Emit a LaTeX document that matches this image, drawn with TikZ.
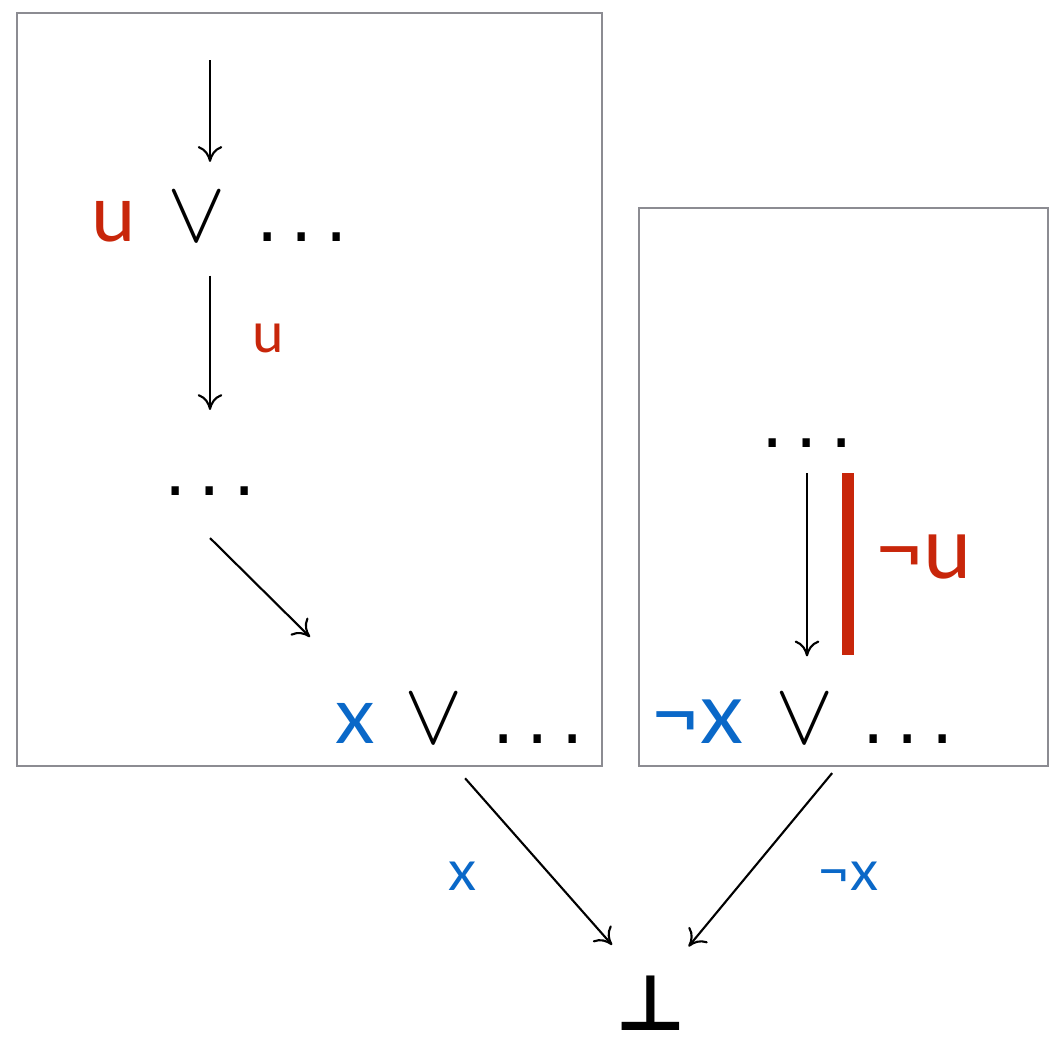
\documentclass[tikz,border=0pt]{standalone}
\usepackage{fontspec}
\setmainfont{Lato}
\newfontfamily\symfont{DejaVu Sans}
\usetikzlibrary{arrows.meta}
\definecolor{clred}{RGB}{200,38,10}
\definecolor{clblue}{RGB}{10,104,200}
\definecolor{boxgray}{RGB}{140,140,146}
\newcommand{\wdots}{.\hspace{3.4pt}.\hspace{3.4pt}.}

\begin{document}
\begin{tikzpicture}[x=0.01cm,y=-0.01cm,
  every node/.style={inner sep=0pt, outer sep=0pt, anchor=base},
  big/.style={font=\fontsize{22.5}{26}\selectfont},
  neg/.style={font=\fontsize{24.5}{28}\selectfont},
  orsym/.style={font=\fontsize{28}{30}\selectfont},
  lbl/.style={font=\fontsize{16}{19}\selectfont},
  ellip/.style={font=\fontsize{20}{24}\selectfont\symfont, text height=0.1cm, text depth=0pt},
  panel/.style={draw=boxgray, line width=0.8pt},
  arr/.style={-{To[length=4.5pt,width=7pt]}, line width=0.6pt}]
\useasboundingbox (0,0) rectangle (1052,1045);
\draw[panel] (17,13) rectangle (602,766);
\draw[panel] (639,208) rectangle (1048,766);

% left derivation
\coordinate (topin) at (210,60);
\node[big,text=clred] (u1) at (114,241) {u};
\node[orsym] (v1) at (197,241) {$\vee$};
\node[ellip] (d1) at (302,241) {\wdots};
\node[lbl,text=clred] (lu) at (268,352) {u};
\node[ellip] (d2) at (210,495) {\wdots};
\coordinate (diagtip) at (310,637);
\node[big,text=clblue] (x1) at (355,743) {x};
\node[orsym] (v2) at (434,743) {$\vee$};
\node[ellip] (d3) at (538,743) {\wdots};

% right derivation
\node[ellip] (d4) at (807,447) {\wdots};
\node[neg,text=clred] (nu) at (923,578) {¬u};
\node[neg,text=clblue] (nx) at (697,743) {¬x};
\node[orsym] (v3) at (805,743) {$\vee$};
\node[ellip] (d5) at (908,743) {\wdots};
\fill[clred] (842,473) rectangle (854,655);

% resolvent
\node[lbl,text=clblue] (lx) at (463,890) {x};
\node[lbl,text=clblue] (lnx) at (848,890) {¬x};
\node[font=\fontsize{22}{26}\selectfont\symfont\bfseries] (bot) at (651,1030) {⊥};

\draw[arr,shorten >=0.39cm] (topin) -- (topin |- u1.north);
\draw[arr,shorten <=0.34cm,shorten >=0.75cm] (topin |- u1.south) -- (topin |- d2.north);
\draw[arr] ([yshift=-0.43cm]d2.south) -- (diagtip);
\draw[arr,shorten <=0.26cm,shorten >=0.38cm] (d4.south) -- (d4.south |- v3.north);
\draw[arr,shorten <=0.47cm,shorten >=0.77cm] (v2.south) -- ([xshift=0.12cm]bot.center);
\draw[arr,shorten <=0.39cm,shorten >=0.73cm] ([xshift=0.52cm]v3.south) -- ([xshift=-0.09cm]bot.center);
\end{tikzpicture}
\end{document}
